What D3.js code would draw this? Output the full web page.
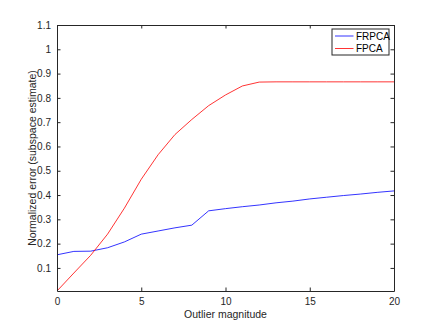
<!DOCTYPE html>
<html>
<head>
<meta charset="utf-8">
<script src="https://cdn.jsdelivr.net/npm/d3@7"></script>
<style>
  body { margin: 0; background: #fff; }
  svg { display: block; font-family: "Liberation Sans", Arial, sans-serif; }
  .tick text { font-size: 10px; fill: #262626; }
  .axis-label { font-size: 10.5px; fill: #262626; }
  .legend text { font-size: 10px; fill: #000; }
</style>
</head>
<body>
<script>
'use strict';

// outlier magnitudes
const magnitudes = [0, 1, 2, 3, 4, 5, 6, 7, 8, 9, 10, 11, 12, 13, 14, 15, 16, 17, 18, 19, 20];
// normalized error
const frpcaError = [0.154, 0.168, 0.169, 0.183, 0.207, 0.239, 0.252, 0.265, 0.276, 0.335, 0.344,
                    0.352, 0.359, 0.368, 0.375, 0.384, 0.391, 0.398, 0.404, 0.411, 0.417];
const fpcaError = [0.005, 0.079, 0.152, 0.239, 0.346, 0.465, 0.566, 0.649, 0.711, 0.768, 0.812,
                   0.849, 0.865, 0.866, 0.866, 0.866, 0.866, 0.866, 0.866, 0.866, 0.866];
const seriesNames = ['FRPCA', 'FPCA'];
const xTicks = [0, 5, 10, 15, 20];
const yTicks = [0.1, 0.2, 0.3, 0.4, 0.5, 0.6, 0.7, 0.8, 0.9, 1, 1.1];

(function () {

    function getPlotArea() {
        const plot = {
            svg: { width: 436, height: 327 },
            padding: { top: 25, right: 42, bottom: 36, left: 57 }
        };
        plot.range = {
            x: plot.svg.width - plot.padding.left - plot.padding.right,
            y: plot.svg.height - plot.padding.top - plot.padding.bottom
        };
        return plot;
    }

    function makeScales(plot) {
        return {
            x: d3.scaleLinear().domain([0, 20]).range([0, plot.range.x]),
            y: d3.scaleLinear().domain([0.005, 1.1]).range([plot.range.y, 0])
        };
    }

    function appendAxes(g, plot, scales) {
        const tickLen = 3.5;
        const fmt = d => String(d);
        g.append('g')
            .attr('transform', 'translate(0,' + plot.range.y + ')')
            .call(d3.axisBottom(scales.x).tickValues(xTicks).tickFormat(fmt)
                .tickSizeInner(-tickLen).tickSizeOuter(0).tickPadding(7));
        g.append('g')
            .call(d3.axisTop(scales.x).tickValues(xTicks).tickFormat('')
                .tickSizeInner(-tickLen).tickSizeOuter(0));
        g.append('g')
            .call(d3.axisLeft(scales.y).tickValues(yTicks).tickFormat(fmt)
                .tickSizeInner(-tickLen).tickSizeOuter(0).tickPadding(6));
        g.append('g')
            .attr('transform', 'translate(' + plot.range.x + ',0)')
            .call(d3.axisRight(scales.y).tickValues(yTicks).tickFormat('')
                .tickSizeInner(-tickLen).tickSizeOuter(0));
        g.selectAll('.domain').attr('stroke', '#262626').attr('stroke-width', 1);
        g.selectAll('.tick line').attr('stroke', '#262626').attr('stroke-width', 1);
    }

    function appendLines(g, scales) {
        const line = d3.line()
            .x(d => scales.x(d[0]))
            .y(d => scales.y(d[1]));
        [[frpcaError, '#0000ff'], [fpcaError, '#ff0000']].forEach(([vals, color]) => {
            g.append('path')
                .datum(magnitudes.map((m, i) => [m, vals[i]]))
                .attr('fill', 'none')
                .attr('stroke', color)
                .attr('stroke-width', 0.8)
                .attr('d', line);
        });
    }

    function appendLabels(svg, plot) {
        svg.append('text')
            .attr('class', 'axis-label')
            .attr('x', plot.padding.left + plot.range.x / 2)
            .attr('y', 318)
            .attr('text-anchor', 'middle')
            .text('Outlier magnitude');
        svg.append('text')
            .attr('class', 'axis-label')
            .attr('transform', 'translate(36,' + (plot.padding.top + plot.range.y / 2) + ') rotate(-90)')
            .attr('text-anchor', 'middle')
            .text('Normalized error (subspace estimate)');
    }

    function appendLegend(svg) {
        const lg = svg.append('g').attr('class', 'legend').attr('transform', 'translate(332,29)');
        lg.append('rect')
            .attr('width', 57).attr('height', 26)
            .attr('fill', '#fff').attr('stroke', '#262626').attr('stroke-width', 1);
        const colors = ['#0000ff', '#ff0000'];
        seriesNames.forEach((name, i) => {
            const y = 7 + i * 12.5;
            lg.append('line')
                .attr('x1', 3).attr('x2', 21.5).attr('y1', y).attr('y2', y)
                .attr('stroke', colors[i]).attr('stroke-width', 0.8);
            lg.append('text')
                .attr('x', 24).attr('y', y + 3.6)
                .text(name);
        });
    }

    function draw() {
        const plot = getPlotArea();
        const svg = d3.select('body').append('svg')
            .attr('width', plot.svg.width)
            .attr('height', plot.svg.height);
        const g = svg.append('g')
            .attr('transform', 'translate(' + plot.padding.left + ',' + plot.padding.top + ')');
        const scales = makeScales(plot);
        appendLines(g, scales);
        appendAxes(g, plot, scales);
        appendLabels(svg, plot);
        appendLegend(svg);
    }

    draw();

})();
</script>
</body>
</html>
